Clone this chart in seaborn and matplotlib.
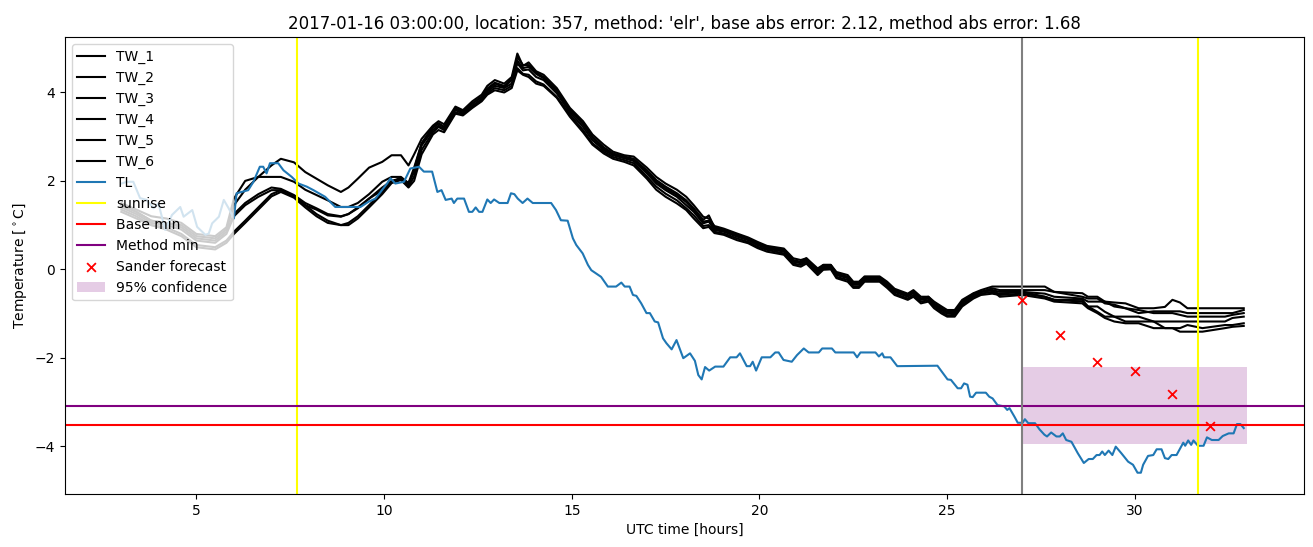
import matplotlib
matplotlib.use("Agg")
import matplotlib.pyplot as plt
import seaborn as sns

# ---------------- data ----------------
tw_hours = [3.0, 3.4, 3.8, 4.2, 4.6, 5.0, 5.5, 5.8, 6.0, 6.3, 6.65, 7.0, 7.25, 7.6, 7.9, 8.2, 8.5, 8.85,
            9.05, 9.3, 9.6, 9.95, 10.2, 10.45, 10.65, 10.8, 11.0, 11.3, 11.45, 11.6, 11.9, 12.1, 12.35,
            12.6, 12.75, 12.95, 13.2, 13.4, 13.55, 13.7, 13.85, 14.05, 14.25, 14.6, 14.95, 15.3, 15.55,
            15.85, 16.1, 16.4, 16.65, 17.0, 17.25, 17.5, 17.8, 18.05, 18.25, 18.5, 18.65, 18.8, 19.05,
            19.4, 19.7, 19.95, 20.2, 20.65, 20.9, 21.1, 21.25, 21.55, 21.7, 21.9, 22.05, 22.35, 22.5,
            22.65, 22.8, 23.2, 23.4, 23.6, 23.95, 24.1, 24.3, 24.5, 24.65, 24.85, 25.0, 25.2, 25.4,
            25.7, 25.9, 26.2, 26.4, 27.0, 27.6, 27.85, 28.6, 28.75, 29.0, 29.2, 29.45, 29.75, 30.1,
            30.5, 30.8, 31.0, 31.2, 31.4, 31.8, 32.4, 32.6, 32.9]

tw_1 = [1.50, 1.35, 1.20, 1.15, 1.05, 0.80, 0.75, 0.95, 1.60, 2.00, 2.09, 2.35, 2.50, 2.42, 2.20, 2.05, 1.90, 1.75, 1.85, 2.05, 2.30, 2.43, 2.58, 2.58, 2.35, 2.60,
        2.95, 3.25, 3.35, 3.28, 3.68, 3.60, 3.80, 3.95, 4.15, 4.28, 4.20, 4.35, 4.88, 4.60, 4.68, 4.48, 4.40, 4.10, 3.65, 3.35, 3.05,
        2.82, 2.66, 2.58, 2.55, 2.30, 2.09, 1.94, 1.80, 1.64, 1.45, 1.19, 1.15, 0.98, 0.92, 0.81, 0.72, 0.62, 0.53, 0.47, 0.25, 0.21, 0.25, 0.02, 0.10, 0.10, -0.06, -0.13, -0.28, -0.28, -0.16, -0.16, -0.28, -0.44, -0.55, -0.47, -0.62, -0.62, -0.73, -0.84, -0.92, -0.92, -0.69, -0.54, -0.47, -0.39,
        -0.39, -0.39, -0.39, -0.51, -0.54, -0.62, -0.62, -0.73, -0.75, -0.77, -0.88, -0.88, -0.85, -0.69, -0.75, -0.88, -0.88, -0.88, -0.88, -0.88]
tw_2 = [1.45, 1.30, 1.10, 1.05, 1.00, 0.75, 0.70, 0.90, 1.45, 1.80, 2.09, 2.09, 2.09, 1.98, 1.80, 1.68, 1.56, 1.41, 1.41, 1.50, 1.70, 1.98, 2.09, 2.09, 1.95, 2.30,
        2.85, 3.22, 3.30, 3.22, 3.64, 3.56, 3.75, 3.90, 4.09, 4.22, 4.15, 4.30, 4.80, 4.62, 4.62, 4.45, 4.35, 4.05, 3.62, 3.30, 3.00,
        2.76, 2.62, 2.55, 2.50, 2.24, 2.02, 1.87, 1.72, 1.56, 1.38, 1.12, 1.22, 0.95, 0.89, 0.78, 0.69, 0.59, 0.51, 0.44, 0.21, 0.17, 0.25, -0.02, 0.10, 0.10, -0.09, -0.17, -0.31, -0.31, -0.18, -0.18, -0.31, -0.47, -0.58, -0.51, -0.66, -0.62, -0.77, -0.88, -0.96, -0.96, -0.73, -0.55, -0.51, -0.43,
        -0.47, -0.47, -0.47, -0.51, -0.62, -0.66, -0.66, -0.77, -0.80, -0.88, -0.99, -0.95, -0.95, -0.95, -0.95, -0.99, -0.99, -0.99, -0.99, -0.92]
tw_3 = [1.40, 1.25, 1.05, 1.00, 0.90, 0.65, 0.60, 0.80, 1.20, 1.45, 1.64, 1.79, 1.79, 1.64, 1.45, 1.35, 1.22, 1.19, 1.25, 1.40, 1.60, 1.79, 1.98, 2.06, 1.95, 2.20,
        2.80, 3.15, 3.25, 3.18, 3.60, 3.52, 3.70, 3.85, 4.02, 4.15, 4.10, 4.20, 4.66, 4.50, 4.52, 4.35, 4.28, 3.98, 3.55, 3.22, 2.92,
        2.70, 2.58, 2.51, 2.45, 2.17, 1.94, 1.79, 1.64, 1.45, 1.30, 1.04, 1.08, 0.89, 0.85, 0.74, 0.66, 0.55, 0.47, 0.40, 0.17, 0.14, 0.21, -0.05, 0.07, 0.07, -0.13, -0.20, -0.35, -0.35, -0.20, -0.20, -0.35, -0.51, -0.62, -0.53, -0.69, -0.66, -0.81, -0.92, -1.00, -0.99, -0.77, -0.58, -0.51, -0.47,
        -0.51, -0.51, -0.55, -0.62, -0.66, -0.73, -0.73, -0.73, -0.84, -0.88, -0.92, -0.99, -0.99, -0.99, -1.03, -1.07, -1.07, -1.07, -1.03, -0.99]
tw_4 = [1.35, 1.20, 1.00, 0.95, 0.80, 0.55, 0.50, 0.65, 0.85, 1.10, 1.40, 1.70, 1.79, 1.66, 1.45, 1.25, 1.10, 1.00, 1.05, 1.20, 1.45, 1.75, 1.98, 2.06, 1.87, 2.10,
        2.70, 3.10, 3.22, 3.15, 3.55, 3.50, 3.68, 3.82, 3.98, 4.10, 4.05, 4.15, 4.55, 4.42, 4.40, 4.25, 4.18, 3.90, 3.50, 3.15, 2.85,
        2.66, 2.54, 2.47, 2.40, 2.10, 1.87, 1.71, 1.56, 1.38, 1.22, 0.98, 1.00, 0.85, 0.81, 0.70, 0.62, 0.51, 0.44, 0.36, 0.13, 0.10, 0.17, -0.09, 0.03, 0.03, -0.17, -0.24, -0.39, -0.39, -0.24, -0.24, -0.39, -0.55, -0.66, -0.58, -0.73, -0.70, -0.84, -0.96, -1.04, -1.03, -0.81, -0.62, -0.55, -0.51,
        -0.55, -0.51, -0.62, -0.69, -0.69, -0.84, -0.84, -0.96, -1.07, -1.07, -1.07, -1.18, -1.18, -1.18, -1.18, -1.18, -1.18, -1.18, -1.10, -1.07]
tw_5 = [1.30, 1.15, 1.00, 0.90, 0.75, 0.50, 0.45, 0.60, 0.80, 1.05, 1.35, 1.65, 1.75, 1.62, 1.40, 1.20, 1.05, 1.00, 1.00, 1.15, 1.40, 1.70, 1.95, 2.02, 1.85, 2.00,
        2.60, 3.05, 3.15, 3.10, 3.52, 3.48, 3.65, 3.80, 3.95, 4.05, 4.00, 4.10, 4.50, 4.40, 4.35, 4.20, 4.15, 3.88, 3.45, 3.10, 2.82,
        2.62, 2.50, 2.43, 2.35, 2.05, 1.80, 1.64, 1.49, 1.34, 1.15, 0.93, 0.96, 0.82, 0.78, 0.66, 0.59, 0.48, 0.40, 0.33, 0.10, 0.06, 0.13, -0.13, -0.01, 0.00, -0.20, -0.28, -0.42, -0.42, -0.28, -0.28, -0.42, -0.58, -0.69, -0.62, -0.77, -0.73, -0.88, -1.00, -1.07, -1.07, -0.84, -0.66, -0.58, -0.55,
        -0.58, -0.55, -0.62, -0.69, -0.73, -0.84, -0.96, -1.07, -1.07, -1.18, -1.18, -1.18, -1.33, -1.33, -1.33, -1.26, -1.33, -1.26, -1.26, -1.22]
tw_6 = [1.45, 1.30, 1.10, 1.05, 0.95, 0.70, 0.65, 0.85, 1.25, 1.50, 1.70, 1.85, 1.82, 1.68, 1.50, 1.38, 1.25, 1.20, 1.25, 1.38, 1.60, 1.85, 2.00, 2.06, 1.90, 2.25,
        2.85, 3.20, 3.30, 3.22, 3.64, 3.56, 3.75, 3.90, 4.05, 4.20, 4.12, 4.28, 4.72, 4.55, 4.58, 4.42, 4.32, 4.02, 3.60, 3.28, 2.98,
        2.72, 2.60, 2.53, 2.47, 2.20, 1.98, 1.83, 1.68, 1.52, 1.34, 1.08, 1.10, 0.92, 0.87, 0.76, 0.68, 0.57, 0.49, 0.42, 0.19, 0.15, 0.21, -0.03, 0.07, 0.07, -0.11, -0.18, -0.33, -0.33, -0.20, -0.20, -0.33, -0.49, -0.60, -0.53, -0.67, -0.66, -0.79, -0.90, -0.98, -0.97, -0.75, -0.58, -0.51, -0.47,
        -0.62, -0.58, -0.66, -0.73, -0.77, -0.88, -0.99, -1.10, -1.18, -1.22, -1.22, -1.33, -1.33, -1.33, -1.41, -1.41, -1.41, -1.33, -1.30, -1.28]

tw_names = ["TW_1", "TW_2", "TW_3", "TW_4", "TW_5", "TW_6"]
tw_series = [tw_1, tw_2, tw_3, tw_4, tw_5, tw_6]

tl_hours = [3.00, 3.15, 3.32, 3.50, 3.68, 3.86, 3.99, 4.17, 4.35, 4.57, 4.66, 4.89, 5.02, 5.24, 5.33, 5.42, 5.60, 5.73, 5.86, 6.00,
            6.07, 6.38, 6.52, 6.69, 6.78, 6.87, 6.96, 7.18, 7.32, 7.54, 7.72, 7.94, 8.12, 8.43, 8.70, 9.37, 9.59, 9.77, 10.08, 10.17,
            10.30, 10.53, 10.70, 10.93, 11.06, 11.28, 11.42, 11.53, 11.64, 11.80, 11.86, 11.95, 12.13, 12.26, 12.35, 12.44, 12.53, 12.62,
            12.75, 12.84, 12.93, 13.07, 13.29, 13.38, 13.47, 13.56, 13.69, 13.82, 13.96, 14.45, 14.58, 14.71, 14.89, 15.03, 15.12, 15.29,
            15.43, 15.52, 15.78, 15.96, 16.18, 16.32, 16.41, 16.54, 16.63, 16.72, 16.85, 16.99, 17.08, 17.21, 17.30, 17.43, 17.52, 17.66,
            17.79, 17.97, 18.15, 18.28, 18.37, 18.46, 18.55, 18.66, 18.82, 19.04, 19.22, 19.39, 19.48, 19.66, 19.75, 19.82, 19.91, 20.06,
            20.29, 20.42, 20.51, 20.64, 20.86, 21.00, 21.18, 21.31, 21.58, 21.67, 21.93, 22.02, 22.51, 22.60, 22.69, 23.09, 23.18, 23.27,
            23.32, 23.49, 23.67, 24.74, 25.01, 25.10, 25.28, 25.37, 25.45, 25.54, 25.61, 25.68, 25.77, 26.03, 26.12, 26.21, 26.34, 26.52,
            26.60, 26.66, 26.79, 26.88, 27.01, 27.07, 27.16, 27.34, 27.46, 27.59, 27.66, 27.77, 27.91, 28.00, 28.08, 28.17, 28.31, 28.48,
            28.64, 28.77, 28.88, 28.98, 29.06, 29.13, 29.20, 29.30, 29.40, 29.49, 29.64, 29.82, 29.95, 30.07, 30.16, 30.22, 30.35, 30.49,
            30.58, 30.71, 30.80, 30.89, 30.98, 31.11, 31.29, 31.34, 31.42, 31.50, 31.56, 31.68, 31.83, 31.92, 32.05, 32.23, 32.34, 32.50,
            32.63, 32.72, 32.81, 32.90]
tl_values = [1.94, 1.98, 1.98, 1.61, 1.57, 1.38, 1.49, 0.89, 1.23, 1.41, 1.19, 1.34, 0.96, 0.78, 0.81, 1.04, 1.19, 1.57, 1.38, 1.15,
             1.72, 1.79, 1.98, 2.32, 2.32, 2.17, 2.40, 2.40, 2.24, 2.09, 1.94, 1.87, 1.79, 1.64, 1.41, 1.41, 1.53, 1.60, 1.94, 2.06,
             1.94, 1.98, 2.28, 2.32, 2.21, 2.21, 1.75, 1.79, 1.57, 1.60, 1.50, 1.60, 1.60, 1.30, 1.30, 1.40, 1.30, 1.30,
             1.58, 1.50, 1.58, 1.50, 1.50, 1.72, 1.70, 1.60, 1.50, 1.60, 1.50, 1.50, 1.34, 1.11, 1.10, 0.70, 0.55, 0.36,
             0.10, -0.02, -0.17, -0.39, -0.39, -0.30, -0.39, -0.39, -0.58, -0.60, -0.77, -0.99, -0.99, -1.18, -1.20, -1.56, -1.67, -1.81,
             -1.60, -2.01, -1.90, -2.07, -2.39, -2.49, -2.21, -2.29, -2.20, -2.20, -1.99, -1.99, -1.90, -2.19, -2.19, -2.09, -2.29, -1.99,
             -1.99, -1.88, -1.88, -2.05, -2.09, -1.94, -1.79, -1.88, -1.88, -1.79, -1.79, -1.88, -1.88, -1.99, -1.88, -1.88, -1.97, -1.90,
             -1.99, -1.99, -2.19, -2.18, -2.49, -2.50, -2.69, -2.69, -2.58, -2.61, -2.88, -2.89, -2.79, -2.79, -2.88, -2.92, -3.07, -3.10,
             -3.18, -3.14, -3.33, -3.47, -3.47, -3.39, -3.48, -3.48, -3.62, -3.74, -3.78, -3.69, -3.78, -3.78, -3.71, -3.86, -3.90, -4.16,
             -4.38, -4.29, -4.29, -4.20, -4.20, -4.12, -4.20, -4.10, -4.20, -4.01, -4.16, -4.35, -4.42, -4.60, -4.60, -4.42, -4.22, -4.20,
             -4.07, -4.07, -4.27, -4.29, -4.20, -4.20, -3.92, -3.99, -3.87, -3.97, -3.87, -3.99, -3.99, -3.80, -3.86, -3.86, -3.77, -3.71,
             -3.71, -3.50, -3.50, -3.59]

sunrise_hours = [7.68, 31.68]
forecast_hour = 27.0
base_min = -3.51
method_min = -3.08
sander_hours = [27, 28, 29, 30, 31, 32]
sander_values = [-0.70, -1.48, -2.09, -2.29, -2.81, -3.54]
conf_hours = [27.0, 33.0]
conf_low = -3.95
conf_high = -2.22

title = "2017-01-16 03:00:00, location: 357, method: 'elr', base abs error: 2.12, method abs error: 1.68"

# ---------------- plot ----------------
fig, ax = plt.subplots(figsize=(13.13, 5.47), dpi=100)
fig.subplots_adjust(left=0.0495, right=0.993, top=0.932, bottom=0.097)

for name, vals in zip(tw_names, tw_series):
    sns.lineplot(x=tw_hours, y=vals, color="black", linewidth=1.5, label=name,
                 estimator=None, sort=False, ax=ax)
sns.lineplot(x=tl_hours, y=tl_values, color="#1f77b4", linewidth=1.5, label="TL",
             estimator=None, sort=False, ax=ax)

ax.axvline(sunrise_hours[0], color="yellow", label="sunrise")
ax.axvline(sunrise_hours[1], color="yellow")
ax.axhline(base_min, color="red", label="Base min")
ax.axhline(method_min, color="purple", label="Method min")
ax.axvline(forecast_hour, color="grey")
sns.scatterplot(x=sander_hours, y=sander_values, marker="x", color="red", s=40,
                linewidth=1.3, label="Sander forecast", ax=ax, zorder=3)
ax.fill_between(conf_hours, conf_low, conf_high, color="purple", alpha=0.2,
                linewidth=0, label="95% confidence")

ax.set_xlim(1.5, 34.5)
ax.set_ylim(-5.08, 5.25)
ax.set_xlabel("UTC time [hours]")
ax.set_ylabel(r"Temperature [$^\circ$C]")
ax.set_title(title)
ax.legend(loc="upper left")

fig.savefig("out.png", dpi=100)
